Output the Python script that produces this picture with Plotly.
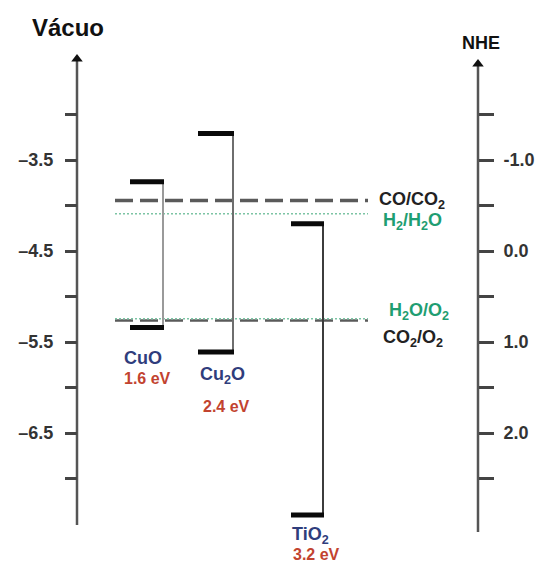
import plotly.graph_objects as go

# Semiconductor band edges on the vacuum energy scale (eV)
materials = ["CuO", "Cu<sub>2</sub>O", "TiO<sub>2</sub>"]
conduction_band = [-3.74, -3.21, -4.20]
band_gap = [1.6, 2.4, 3.2]
gap_labels = [f"{g:.1f} eV" for g in band_gap]
valence_band = [round(c - g, 2) for c, g in zip(conduction_band, band_gap)]

# Redox couples (vacuum scale, eV)
couples = ["CO/CO<sub>2</sub>", "H<sub>2</sub>/H<sub>2</sub>O",
           "H<sub>2</sub>O/O<sub>2</sub>", "CO<sub>2</sub>/O<sub>2</sub>"]
couple_levels = [-3.945, -4.09, -5.245, -5.265]

# Axis ticks
vac_ticks = [-3.0, -3.5, -4.0, -4.5, -5.0, -5.5, -6.0, -6.5, -7.0]
vac_ticktext = ["", "\u20133.5", "", "\u20134.5", "", "\u20135.5", "", "\u20136.5", ""]
nhe_ticks = [-1.5, -1.0, -0.5, 0.0, 0.5, 1.0, 1.5, 2.0, 2.5]
nhe_ticktext = ["", "-1.0", "", "0.0", "", "1.0", "", "2.0", ""]
NHE_ZERO = -4.5  # vacuum energy of the NHE reference

# ---- layout geometry (pixels) ----
W, H = 535, 564
PX_PER_EV = 91.0
REF_PX, REF_E = 160.0, -3.5


def e_at(p):
    """Vacuum energy at vertical pixel p."""
    return REF_E - (p - REF_PX) / PX_PER_EV


def to_nhe(e):
    return -e + NHE_ZERO


Y_RANGE = [e_at(H), e_at(0)]
NHE_RANGE = [to_nhe(Y_RANGE[0]), to_nhe(Y_RANGE[1])]

LEFT_AX_X, RIGHT_AX_X = 77, 478
bar_x = [(130, 163), (198, 233), (291, 323)]
connector_colors = ["#9a9a9a", "#6e6e6e", "#3c3c3c"]
redox_x = (115, 368)

NAVY = "#2f3d7c"
RED = "#c2432f"
GREEN = "#1f9e72"
DARK = "#222222"
FONT = "Liberation Sans"

fig = go.Figure()

# left (vacuum) axis line with arrow head
fig.add_trace(go.Scatter(x=[LEFT_AX_X, LEFT_AX_X], y=[e_at(525), e_at(60)], mode="lines",
                         line=dict(color="#555555", width=2.5),
                         hoverinfo="skip", showlegend=False))
fig.add_trace(go.Scatter(x=[LEFT_AX_X], y=[e_at(59)], mode="markers",
                         marker=dict(symbol="triangle-up", size=10, color="#111111"),
                         hoverinfo="skip", showlegend=False))
# right (NHE) axis line with arrow head
fig.add_trace(go.Scatter(x=[RIGHT_AX_X, RIGHT_AX_X], y=[to_nhe(e_at(532)), to_nhe(e_at(65))],
                         mode="lines", yaxis="y2",
                         line=dict(color="#555555", width=2.5),
                         hoverinfo="skip", showlegend=False))
fig.add_trace(go.Scatter(x=[RIGHT_AX_X], y=[to_nhe(e_at(64))], mode="markers", yaxis="y2",
                         marker=dict(symbol="triangle-up", size=10, color="#111111"),
                         hoverinfo="skip", showlegend=False))

# redox couple lines
co_style = dict(color="#5a5a5a", width=3.5, dash="18px,7px")
water_style = dict(color="#7cc4a4", width=1.6, dash="2px,2px")
styles = [co_style, water_style, water_style, dict(co_style, width=2.5)]
order = [0, 1, 3, 2]  # draw the dotted water line above the CO2/O2 dashes
for i in order:
    lvl, st = couple_levels[i], styles[i]
    fig.add_trace(go.Scatter(x=list(redox_x), y=[lvl, lvl], mode="lines", line=st,
                             hoverinfo="skip", showlegend=False))

# band edges and connectors
for (x0, x1), cb, vb, cc in zip(bar_x, conduction_band, valence_band, connector_colors):
    fig.add_trace(go.Scatter(x=[x1, x1], y=[cb, vb], mode="lines",
                             line=dict(color=cc, width=2),
                             hoverinfo="skip", showlegend=False))
    for lvl in (cb, vb):
        fig.add_trace(go.Scatter(x=[x0, x1 + 1], y=[lvl, lvl], mode="lines",
                                 line=dict(color="#0a0a0a", width=5),
                                 hoverinfo="skip", showlegend=False))

annotations = []


def label(text, x, p, color, size, anchor="center"):
    annotations.append(dict(x=x, y=e_at(p), xref="x", yref="y", text=text,
                            showarrow=False, xanchor=anchor, yanchor="middle",
                            font=dict(family=FONT, size=size, color=color, weight="bold")))


# material names and band gaps
mat_pos = [(143, 358), (222, 375), (310, 535)]
gap_pos = [(147, 378), (226, 406), (316, 554)]
for name, gl, (mx, mp), (gx, gp) in zip(materials, gap_labels, mat_pos, gap_pos):
    label(name, mx, mp, NAVY, 18)
    label(gl, gx, gp, RED, 16)

# redox couple names
couple_pos = [(377, 200), (381, 221), (387, 311), (381, 338)]
couple_colors = [DARK, GREEN, GREEN, DARK]
for txt, (cx, cp), col in zip(couples, couple_pos, couple_colors):
    label(txt, cx, cp, col, 18, anchor="left")

# axis titles
label("Vácuo", 68, 27, "#111111", 24)
label("NHE", 481, 43, "#111111", 18)

tick_font = dict(family=FONT, size=18, color="#333333", weight="bold")
fig.update_layout(
    width=W, height=H,
    margin=dict(l=0, r=0, t=0, b=0),
    paper_bgcolor="white", plot_bgcolor="white",
    showlegend=False,
    annotations=annotations,
    xaxis=dict(range=[0, W], visible=False, fixedrange=True),
    yaxis=dict(range=Y_RANGE, anchor="free", position=LEFT_AX_X / W, side="left",
               tickvals=vac_ticks, ticktext=vac_ticktext, ticks="outside",
               ticklen=12, tickwidth=2.5, tickcolor="#444444",
               showline=False, showgrid=False, zeroline=False,
               ticklabelstandoff=8, tickfont=tick_font),
    yaxis2=dict(range=NHE_RANGE, overlaying="y", anchor="free",
                position=RIGHT_AX_X / W, side="right",
                tickvals=nhe_ticks, ticktext=nhe_ticktext, ticks="outside",
                ticklen=15, tickwidth=2.5, tickcolor="#444444",
                showline=False, showgrid=False, zeroline=False,
                ticklabelstandoff=6, tickfont=tick_font),
)

fig.write_html("out.html")
